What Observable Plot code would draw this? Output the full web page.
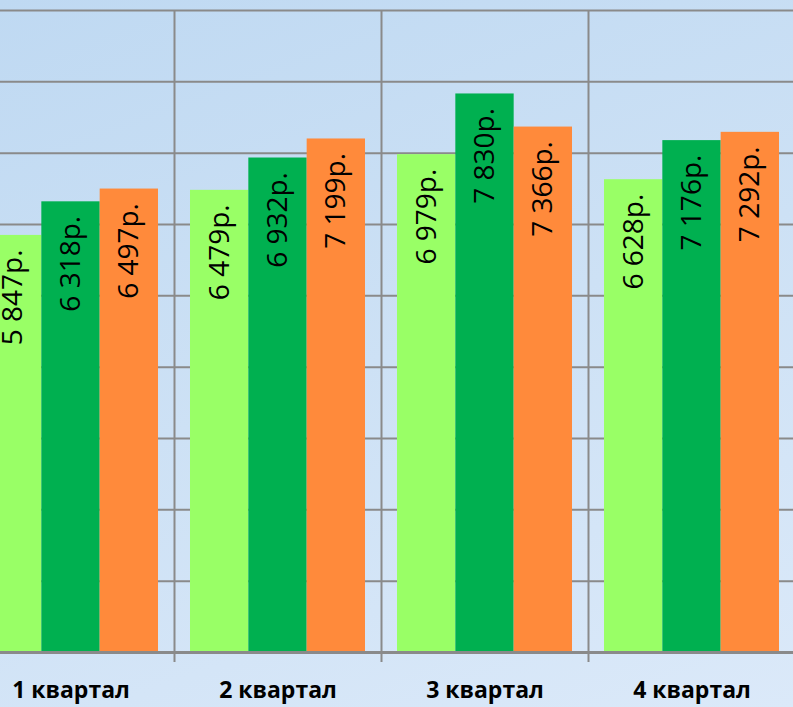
<!DOCTYPE html>
<html>
<head>
<meta charset="utf-8">
<script src="https://cdn.jsdelivr.net/npm/d3@7"></script>
<script src="https://cdn.jsdelivr.net/npm/@observablehq/plot@0.6"></script>
<style>
  html, body { margin: 0; padding: 0; }
  body {
    width: 793px; height: 707px; overflow: hidden;
    background: linear-gradient(160deg, #bfd9f2 0%, #cde1f5 50%, #dbe9f9 100%);
  }
  #chart svg { display: block; background: transparent; }
</style>
</head>
<body>
<div id="chart"></div>
<script>
const quarters = ["1 квартал", "2 квартал", "3 квартал", "4 квартал"];
const seriesNames = ["Ряд 1", "Ряд 2", "Ряд 3"];
const series1 = [5847, 6479, 6979, 6628];
const series2 = [6318, 6932, 7830, 7176];
const series3 = [6497, 7199, 7366, 7292];
const seriesColors = ["#99ff66", "#00b050", "#ff8a3b"];
const yTicks = [1000, 2000, 3000, 4000, 5000, 6000, 7000, 8000, 9000];

const allSeries = [series1, series2, series3];
const data = [];
allSeries.forEach((vals, si) => vals.forEach((v, qi) => data.push({quarter: quarters[qi], series: seriesNames[si], si, value: v})));

const W = 793, H = 707;
const mL = -33, mR = -2;
const band = (W - mL - mR) / quarters.length;   // 207
const pad = 16;
const barW = (band - 2 * pad) / 3;

const fmt = v => d3.format(",")(v).replace(/,/g, "\u00a0") + "р.";
const grid = "#8a8a8a";

const marks = [
  Plot.gridY(yTicks, {stroke: grid, strokeOpacity: 1, strokeWidth: 2}),
  Plot.ruleX(quarters, {x: d => d, dx: -band / 2, stroke: grid, strokeWidth: 2, insetBottom: -10})
];
seriesNames.forEach((s, i) => {
  const d = data.filter(r => r.si === i);
  marks.push(Plot.barY(d, {
    x: "quarter", y: "value", fill: seriesColors[i],
    insetLeft: pad + i * barW, insetRight: pad + (2 - i) * barW
  }));
});
marks.push(Plot.ruleY([0], {stroke: grid, strokeWidth: 3}));
seriesNames.forEach((s, i) => {
  const d = data.filter(r => r.si === i);
  marks.push(Plot.text(d, {
    x: "quarter", y: "value", text: r => fmt(r.value),
    rotate: -90, textAnchor: "end", dy: 14,
    dx: -band / 2 + pad + (i + 0.5) * barW,
    fill: "#000", fontSize: 28, fontFamily: "Open Sans"
  }));
});
marks.push(Plot.axisX({tickSize: 0, tickPadding: 29, fontSize: 23, fontWeight: "bold", fontFamily: "Open Sans", fill: "#000", label: null}));

const chart = Plot.plot({
  width: W, height: H,
  marginLeft: mL, marginRight: mR, marginTop: 10, marginBottom: 55,
  style: {background: "transparent", fontFamily: "Open Sans"},
  x: {domain: quarters, padding: 0, axis: null},
  y: {domain: [0, 9000], axis: null},
  marks
});
document.getElementById("chart").appendChild(chart);
</script>
</body>
</html>
